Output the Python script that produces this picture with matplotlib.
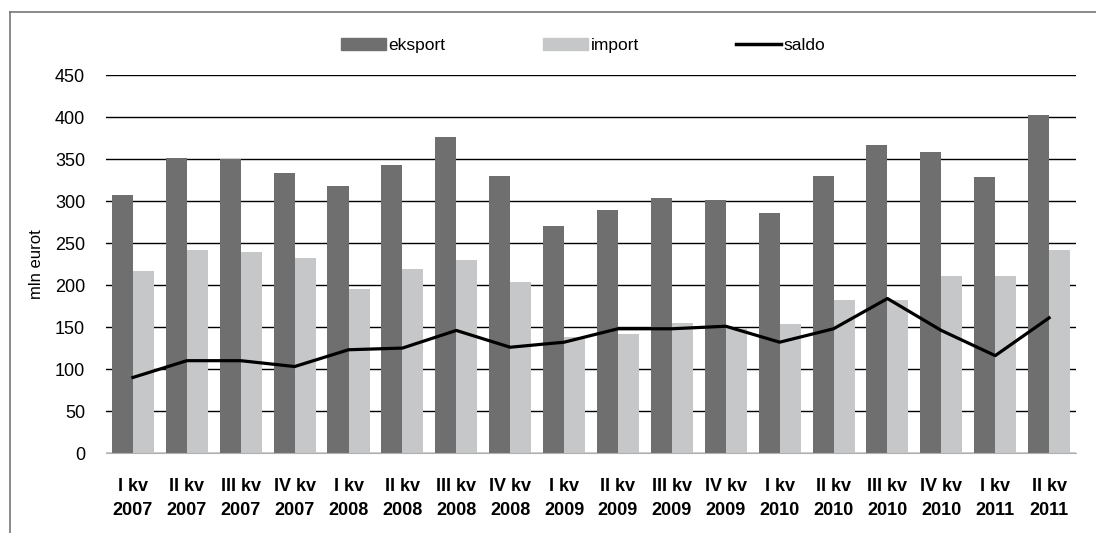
import matplotlib.pyplot as plt
import numpy as np
from matplotlib.lines import Line2D

plt.rcParams['font.family'] = ['Liberation Sans', 'DejaVu Sans']

# andmed
kvartalid = ["I kv\n2007", "II kv\n2007", "III kv\n2007", "IV kv\n2007",
             "I kv\n2008", "II kv\n2008", "III kv\n2008", "IV kv\n2008",
             "I kv\n2009", "II kv\n2009", "III kv\n2009", "IV kv\n2009",
             "I kv\n2010", "II kv\n2010", "III kv\n2010", "IV kv\n2010",
             "I kv\n2011", "II kv\n2011"]
eksport = [307, 351, 350, 333, 318, 343, 376, 330, 270,
           289, 304, 301, 286, 330, 367, 358, 329, 402]
imp = [217, 242, 239, 232, 195, 219, 230, 204, 138,
       142, 155, 149, 154, 182, 182, 211, 211, 242]
saldo = [90, 110, 110, 103, 123, 125, 146, 126, 132,
         148, 148, 151, 132, 148, 184, 146, 116, 161]

fig = plt.figure(figsize=(10.96, 5.33), dpi=100)
ax = fig.add_axes([0.0967, 0.150, 0.8851, 0.709])

x = np.arange(len(kvartalid))
w = 0.39
ax.bar(x - w / 2, eksport, w, color='#6f6f70', label='eksport', zorder=2)
ax.bar(x + w / 2, imp, w, color='#c6c7c8', label='import', zorder=2)
ax.plot(x, saldo, color='black', linewidth=2.3, label='saldo', zorder=3)

ax.set_xlim(-0.5, len(kvartalid) - 0.5)
ax.set_ylim(0, 450)
ax.set_yticks(range(0, 451, 50))
ax.grid(axis='y', color='black', linewidth=1, zorder=0)
ax.set_axisbelow(True)
for s in ['top', 'right', 'left']:
    ax.spines[s].set_visible(False)
ax.spines['bottom'].set_color('#b0b0b0')
ax.tick_params(axis='both', length=0, labelsize=13)
ax.tick_params(axis='y', pad=15)
ax.tick_params(axis='x', pad=18)
ax.set_xticks(x)
ax.set_xticklabels(kvartalid, fontweight='bold', linespacing=1.55)
ax.set_ylabel('mln eurot', fontsize=12, labelpad=8)

handles = [plt.Rectangle((0, 0), 1, 1, color='#6f6f70'),
           plt.Rectangle((0, 0), 1, 1, color='#c6c7c8'),
           Line2D([0], [0], color='black', linewidth=2.5)]
fig.legend(handles, ['eksport', 'import', 'saldo'], loc='center',
           bbox_to_anchor=(0.532, 0.914), ncol=3, frameon=False, fontsize=12.5,
           handlelength=2.6, handleheight=0.7, handletextpad=0.15,
           columnspacing=5.6)

# raam
fig.add_artist(Line2D([10 / 1096, 10 / 1096], [0, 1 - 12 / 533],
                      color='#777777', linewidth=1.2))
fig.add_artist(Line2D([10 / 1096, 1], [1 - 12 / 533, 1 - 12 / 533],
                      color='#777777', linewidth=1.2))

fig.savefig('out.png', dpi=100)
